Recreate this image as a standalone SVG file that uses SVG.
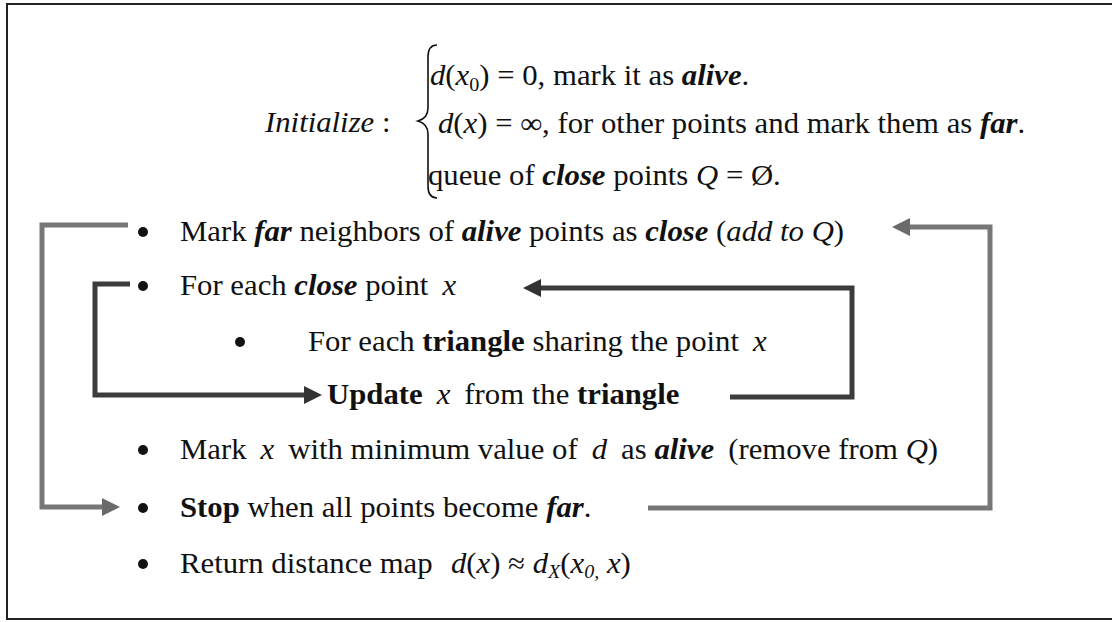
<svg xmlns="http://www.w3.org/2000/svg" width="1112" height="622" viewBox="0 0 1112 622">
<style>
text{font-family:"Liberation Serif","Times New Roman",serif;font-size:29px;fill:#111}
.i{font-style:italic}
.b{font-weight:bold}
.bi{font-style:italic;font-weight:bold}
.sub{font-size:19px}
.dot{fill:#111}
.inner{fill:none;stroke:#3c3c3c;stroke-width:5}
.outer{fill:none;stroke:#777;stroke-width:5}
.frame{fill:none;stroke:#222;stroke-width:2}
</style>
<defs>
<marker id="ahIn" markerWidth="18" markerHeight="18" refX="8" refY="9" orient="auto" markerUnits="userSpaceOnUse">
<path d="M0,0 L18,9 L0,18 z" fill="#333"/>
</marker>
<marker id="ahOut" markerWidth="18" markerHeight="18" refX="8" refY="9" orient="auto" markerUnits="userSpaceOnUse">
<path d="M0,0 L18,9 L0,18 z" fill="#6a6a6a"/>
</marker>
</defs>
<rect width="1112" height="622" fill="#fff"/>
<g id="frame">
<path class="frame" d="M1112,4 H7 V619 H1112"/>
</g>
<g id="init">
<text transform="translate(265,132) scale(1.06,1)"><tspan class="i">Initialize</tspan> :</text>
<path d="M437,45 C431,45 428,49 428,57 L428,108 C428,115 425,119 418,121 C425,123 428,127 428,134 L428,186 C428,194 431,198 437,198" fill="none" stroke="#111" stroke-width="1.6"/>
<text transform="translate(430,85) scale(1.06,1)"><tspan class="i">d</tspan>(<tspan class="i">x</tspan><tspan class="sub" dy="6">0</tspan><tspan dy="-6">) = 0, mark it as </tspan><tspan class="bi">alive</tspan>.</text>
<text transform="translate(438,133) scale(1.06,1)"><tspan class="i">d</tspan>(<tspan class="i">x</tspan>) = ∞, for other points and mark them as <tspan class="bi">far</tspan>.</text>
<text transform="translate(428,185) scale(1.06,1)">queue of <tspan class="bi">close</tspan> points <tspan class="i">Q</tspan> = Ø.</text>
</g>
<g id="step-mark-far">
<circle class="dot" cx="143" cy="232" r="5"/>
<text transform="translate(180,241) scale(1.06,1)">Mark <tspan class="bi">far</tspan> neighbors of <tspan class="bi">alive</tspan> points as <tspan class="bi">close</tspan> (<tspan class="i">add to Q</tspan>)</text>
</g>
<g id="step-for-close">
<circle class="dot" cx="143" cy="286" r="5"/>
<text transform="translate(180,295) scale(1.06,1)">For each <tspan class="bi">close</tspan> point <tspan class="i" dx="6">x</tspan></text>
</g>
<g id="step-for-triangle">
<circle class="dot" cx="240" cy="342" r="5"/>
<text transform="translate(308,351) scale(1.06,1)">For each <tspan class="b">triangle</tspan> sharing the point <tspan class="i" dx="6">x</tspan></text>
</g>
<g id="step-update">
<text transform="translate(327,404) scale(1.06,1)"><tspan class="b">Update</tspan><tspan class="i" dx="6"> x</tspan><tspan dx="6"> from the </tspan><tspan class="b">triangle</tspan></text>
</g>
<g id="step-mark-alive">
<circle class="dot" cx="143" cy="450" r="5"/>
<text transform="translate(180,459) scale(1.06,1)">Mark <tspan class="i" dx="6">x</tspan><tspan dx="6"> with minimum value of </tspan><tspan class="i" dx="6">d</tspan><tspan dx="6"> as </tspan><tspan class="bi">alive</tspan><tspan dx="6"> (remove from </tspan><tspan class="i">Q</tspan>)</text>
</g>
<g id="step-stop">
<circle class="dot" cx="143" cy="508" r="5"/>
<text transform="translate(180,517) scale(1.06,1)"><tspan class="b">Stop</tspan> when all points become <tspan class="bi">far</tspan>.</text>
</g>
<g id="step-return">
<circle class="dot" cx="143" cy="564" r="5"/>
<text transform="translate(180,573) scale(1.06,1)">Return distance map <tspan class="i" dx="10">d</tspan>(<tspan class="i">x</tspan>) ≈ <tspan class="i">d</tspan><tspan class="i sub" dy="5">X</tspan><tspan dy="-5">(</tspan><tspan class="i">x</tspan><tspan class="i sub" dy="5">0,</tspan><tspan class="i" dy="-5"> x</tspan>)</text>
</g>
<g id="connectors">
<path class="outer" d="M128,225 H42 V507 H110" marker-end="url(#ahOut)"/>
<path class="outer" d="M648,508 H990 V227 H902" marker-end="url(#ahOut)"/>
<path class="inner" d="M130,284 H95 V395 H312" marker-end="url(#ahIn)"/>
<path class="inner" d="M730,397 H852 V288 H533" marker-end="url(#ahIn)"/>
</g>
</svg>
